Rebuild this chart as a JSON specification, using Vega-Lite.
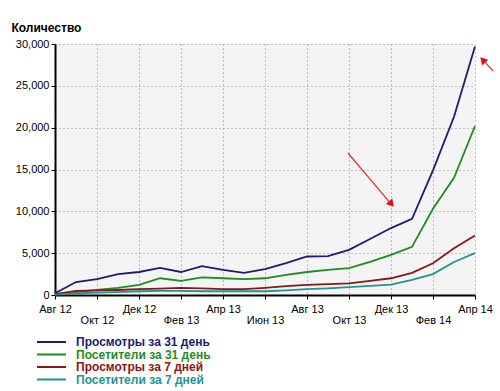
{
  "$schema": "https://vega.github.io/schema/vega-lite/v6.json",
  "autosize": {"type": "none"},
  "width": 420,
  "height": 251,
  "padding": {"left": 55, "top": 44, "right": 25, "bottom": 96},
  "background": "#ffffff",
  "config": {
    "font": "Liberation Sans",
    "view": {"fill": "#f4f4f4", "stroke": null},
    "axis": {
      "labelFont": "Liberation Sans",
      "labelFontSize": 11,
      "labelColor": "#000000",
      "domainColor": "#000000",
      "domainWidth": 2,
      "tickColor": "#000000",
      "tickSize": 4,
      "gridColor": "#8a8a8a",
      "gridDash": [1, 3],
      "gridWidth": 1
    }
  },
  "datasets": {
    "series": [
      {"m": 0, "s": "Просмотры за 31 день", "v": 200},
      {"m": 1, "s": "Просмотры за 31 день", "v": 1550},
      {"m": 2, "s": "Просмотры за 31 день", "v": 1900},
      {"m": 3, "s": "Просмотры за 31 день", "v": 2500},
      {"m": 4, "s": "Просмотры за 31 день", "v": 2750},
      {"m": 5, "s": "Просмотры за 31 день", "v": 3250},
      {"m": 6, "s": "Просмотры за 31 день", "v": 2750},
      {"m": 7, "s": "Просмотры за 31 день", "v": 3450},
      {"m": 8, "s": "Просмотры за 31 день", "v": 3000},
      {"m": 9, "s": "Просмотры за 31 день", "v": 2650},
      {"m": 10, "s": "Просмотры за 31 день", "v": 3100},
      {"m": 11, "s": "Просмотры за 31 день", "v": 3800},
      {"m": 12, "s": "Просмотры за 31 день", "v": 4600},
      {"m": 13, "s": "Просмотры за 31 день", "v": 4650},
      {"m": 14, "s": "Просмотры за 31 день", "v": 5400},
      {"m": 15, "s": "Просмотры за 31 день", "v": 6700},
      {"m": 16, "s": "Просмотры за 31 день", "v": 8000},
      {"m": 17, "s": "Просмотры за 31 день", "v": 9100},
      {"m": 18, "s": "Просмотры за 31 день", "v": 14900},
      {"m": 19, "s": "Просмотры за 31 день", "v": 21300},
      {"m": 20, "s": "Просмотры за 31 день", "v": 29700},
      {"m": 0, "s": "Посетители за 31 день", "v": 100},
      {"m": 1, "s": "Посетители за 31 день", "v": 350},
      {"m": 2, "s": "Посетители за 31 день", "v": 600},
      {"m": 3, "s": "Посетители за 31 день", "v": 850},
      {"m": 4, "s": "Посетители за 31 день", "v": 1200},
      {"m": 5, "s": "Посетители за 31 день", "v": 2000},
      {"m": 6, "s": "Посетители за 31 день", "v": 1700},
      {"m": 7, "s": "Посетители за 31 день", "v": 2100},
      {"m": 8, "s": "Посетители за 31 день", "v": 2000},
      {"m": 9, "s": "Посетители за 31 день", "v": 1900},
      {"m": 10, "s": "Посетители за 31 день", "v": 2000},
      {"m": 11, "s": "Посетители за 31 день", "v": 2400},
      {"m": 12, "s": "Посетители за 31 день", "v": 2750},
      {"m": 13, "s": "Посетители за 31 день", "v": 3000},
      {"m": 14, "s": "Посетители за 31 день", "v": 3200},
      {"m": 15, "s": "Посетители за 31 день", "v": 3950},
      {"m": 16, "s": "Посетители за 31 день", "v": 4800},
      {"m": 17, "s": "Посетители за 31 день", "v": 5750},
      {"m": 18, "s": "Посетители за 31 день", "v": 10300},
      {"m": 19, "s": "Посетители за 31 день", "v": 14000},
      {"m": 20, "s": "Посетители за 31 день", "v": 20200},
      {"m": 0, "s": "Просмотры за 7 дней", "v": 100},
      {"m": 1, "s": "Просмотры за 7 дней", "v": 500},
      {"m": 2, "s": "Просмотры за 7 дней", "v": 550},
      {"m": 3, "s": "Просмотры за 7 дней", "v": 600},
      {"m": 4, "s": "Просмотры за 7 дней", "v": 700},
      {"m": 5, "s": "Просмотры за 7 дней", "v": 750},
      {"m": 6, "s": "Просмотры за 7 дней", "v": 850},
      {"m": 7, "s": "Просмотры за 7 дней", "v": 800},
      {"m": 8, "s": "Просмотры за 7 дней", "v": 700},
      {"m": 9, "s": "Просмотры за 7 дней", "v": 700},
      {"m": 10, "s": "Просмотры за 7 дней", "v": 850},
      {"m": 11, "s": "Просмотры за 7 дней", "v": 1050},
      {"m": 12, "s": "Просмотры за 7 дней", "v": 1200},
      {"m": 13, "s": "Просмотры за 7 дней", "v": 1300},
      {"m": 14, "s": "Просмотры за 7 дней", "v": 1400},
      {"m": 15, "s": "Просмотры за 7 дней", "v": 1700},
      {"m": 16, "s": "Просмотры за 7 дней", "v": 2000},
      {"m": 17, "s": "Просмотры за 7 дней", "v": 2650},
      {"m": 18, "s": "Просмотры за 7 дней", "v": 3800},
      {"m": 19, "s": "Просмотры за 7 дней", "v": 5600},
      {"m": 20, "s": "Просмотры за 7 дней", "v": 7100},
      {"m": 0, "s": "Посетители за 7 дней", "v": 50},
      {"m": 1, "s": "Посетители за 7 дней", "v": 200},
      {"m": 2, "s": "Посетители за 7 дней", "v": 300},
      {"m": 3, "s": "Посетители за 7 дней", "v": 350},
      {"m": 4, "s": "Посетители за 7 дней", "v": 450},
      {"m": 5, "s": "Посетители за 7 дней", "v": 500},
      {"m": 6, "s": "Посетители за 7 дней", "v": 500},
      {"m": 7, "s": "Посетители за 7 дней", "v": 450},
      {"m": 8, "s": "Посетители за 7 дней", "v": 450},
      {"m": 9, "s": "Посетители за 7 дней", "v": 450},
      {"m": 10, "s": "Посетители за 7 дней", "v": 450},
      {"m": 11, "s": "Посетители за 7 дней", "v": 550},
      {"m": 12, "s": "Посетители за 7 дней", "v": 700},
      {"m": 13, "s": "Посетители за 7 дней", "v": 800},
      {"m": 14, "s": "Посетители за 7 дней", "v": 950},
      {"m": 15, "s": "Посетители за 7 дней", "v": 1100},
      {"m": 16, "s": "Посетители за 7 дней", "v": 1250},
      {"m": 17, "s": "Посетители за 7 дней", "v": 1800},
      {"m": 18, "s": "Посетители за 7 дней", "v": 2500},
      {"m": 19, "s": "Посетители за 7 дней", "v": 3950},
      {"m": 20, "s": "Посетители за 7 дней", "v": 5000}
    ]
  },
  "layer": [
    {
      "data": {"name": "series"},
      "mark": {"type": "line", "strokeWidth": 1.8},
      "encoding": {
        "x": {
          "field": "m",
          "type": "quantitative",
          "scale": {"domain": [0, 20], "nice": false, "zero": false},
          "axis": {
            "title": null,
            "values": [0, 2, 4, 6, 8, 10, 12, 14, 16, 18, 20],
            "labelFlush": false,
            "labelOverlap": false,
            "labelPadding": 4,
            "labelLineHeight": 11,
            "labelExpr": "datum.value % 4 == 2 ? ['', ['Авг 12','Сен 12','Окт 12','Ноя 12','Дек 12','Янв 13','Фев 13','Мар 13','Апр 13','Май 13','Июн 13','Июл 13','Авг 13','Сен 13','Окт 13','Ноя 13','Дек 13','Янв 14','Фев 14','Мар 14','Апр 14'][datum.value]] : ['Авг 12','Сен 12','Окт 12','Ноя 12','Дек 12','Янв 13','Фев 13','Мар 13','Апр 13','Май 13','Июн 13','Июл 13','Авг 13','Сен 13','Окт 13','Ноя 13','Дек 13','Янв 14','Фев 14','Мар 14','Апр 14'][datum.value]"
          }
        },
        "y": {
          "field": "v",
          "type": "quantitative",
          "scale": {"domain": [0, 30000], "nice": false},
          "axis": {
            "values": [0, 5000, 10000, 15000, 20000, 25000, 30000],
            "labelExpr": "format(datum.value, ',')",
            "labelPadding": 2,
            "title": "Количество",
            "titleAngle": 0,
            "titleX": -44,
            "titleY": -17,
            "titleAlign": "left",
            "titleBaseline": "middle",
            "titleFont": "Liberation Sans",
            "titleFontSize": 12,
            "titleFontWeight": "bold",
            "titleColor": "#000000"
          }
        },
        "color": {
          "field": "s",
          "type": "nominal",
          "sort": ["Просмотры за 31 день", "Посетители за 31 день", "Просмотры за 7 дней", "Посетители за 7 дней"],
          "scale": {
            "domain": ["Просмотры за 31 день", "Посетители за 31 день", "Просмотры за 7 дней", "Посетители за 7 дней"],
            "range": ["#1c1c70", "#1e8c1e", "#8c1414", "#1e9494"]
          },
          "legend": {
            "title": null,
            "orient": "none",
            "legendX": -9.5,
            "legendY": 292,
            "direction": "vertical",
            "symbolType": "M-2.9,0L2.9,0",
            "symbolSize": 100,
            "symbolStrokeWidth": 2,
            "labelFont": "Liberation Sans",
            "labelFontSize": 12,
            "labelFontWeight": "bold",
            "labelOffset": 18.5,
            "rowPadding": 0.5,
            "labelLimit": 300,
            "encode": {
              "labels": {"update": {"fill": {"scale": "color", "field": "value"}}}
            }
          }
        }
      }
    },
    {
      "data": {"values": [{"x": 13.95, "y": 16970, "x2": 16.0, "y2": 10900}]},
      "mark": {"type": "rule", "color": "#d83a3a", "strokeWidth": 1.3},
      "encoding": {
        "x": {"field": "x", "type": "quantitative"},
        "y": {"field": "y", "type": "quantitative"},
        "x2": {"field": "x2"},
        "y2": {"field": "y2"}
      }
    },
    {
      "data": {"values": [{"x": 16.02, "y": 10870}]},
      "mark": {"type": "point", "shape": "triangle-up", "filled": true, "color": "#e01010", "opacity": 1, "size": 70, "angle": 140},
      "encoding": {
        "x": {"field": "x", "type": "quantitative"},
        "y": {"field": "y", "type": "quantitative"}
      }
    },
    {
      "data": {"values": [{"x": 20.86, "y": 26770, "x2": 20.38, "y2": 28100}]},
      "mark": {"type": "rule", "color": "#d83a3a", "strokeWidth": 1.3},
      "encoding": {
        "x": {"field": "x", "type": "quantitative"},
        "y": {"field": "y", "type": "quantitative"},
        "x2": {"field": "x2"},
        "y2": {"field": "y2"}
      }
    },
    {
      "data": {"values": [{"x": 20.37, "y": 28100}]},
      "mark": {"type": "point", "shape": "triangle-up", "filled": true, "color": "#e01010", "opacity": 1, "size": 70, "angle": 317},
      "encoding": {
        "x": {"field": "x", "type": "quantitative"},
        "y": {"field": "y", "type": "quantitative"}
      }
    }
  ]
}
